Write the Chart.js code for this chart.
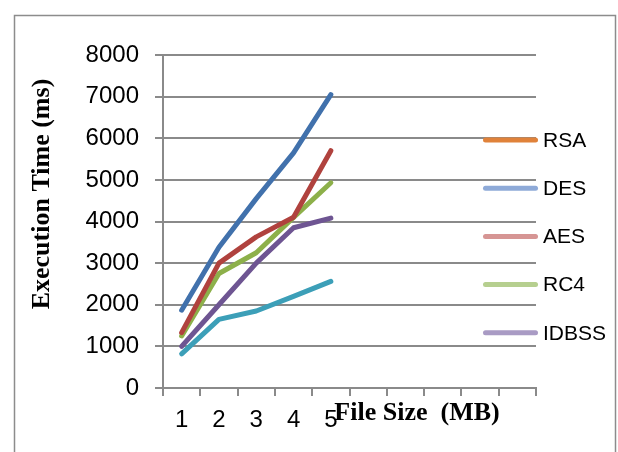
<!DOCTYPE html>
<html><head><meta charset="utf-8">
<script src="https://cdn.jsdelivr.net/npm/chart.js@4/dist/chart.umd.min.js"></script>
<style>html,body{margin:0;padding:0;background:#fff;overflow:hidden}#wrap{position:absolute;left:0;top:0;width:618px;height:452px}</style>
</head><body><div id="wrap"><canvas id="c" width="618" height="452"></canvas></div>
<script>
// ---- data ----
const categories = ['1','2','3','4','5','','','','',''];
const yTicks = [0,1000,2000,3000,4000,5000,6000,7000,8000];
const seriesNames = ['RSA','DES','AES','RC4','IDBSS'];
const rsaValues   = [1870,3380,4550,5650,7050];
const desValues   = [1330,3000,3630,4100,5700];
const aesValues   = [1250,2750,3250,4100,4930];
const rc4Values   = [1000,2000,3000,3850,4080];
const idbssValues = [820,1650,1850,2200,2560];
const lineColors   = ['#4171ac','#b0423e','#8db04a','#6e5592','#3c9fb8'];
const legendColors = ['#e0823a','#8eaad8','#d69594','#b6cf8f','#a99bc4'];
const yTitle = 'Execution Time (ms)';
const xTitle = 'File Size  (MB)';

const seriesValues = [rsaValues, desValues, aesValues, rc4Values, idbssValues];
const GRID = '#8a8a8a';

const decor = {
  id: 'decor',
  beforeDraw(chart) {
    const ctx = chart.ctx;
    ctx.save();
    ctx.fillStyle = '#fff';
    ctx.fillRect(0, 0, chart.width, chart.height);
    ctx.strokeStyle = '#8c8c8c';
    ctx.lineWidth = 1.5;
    ctx.strokeRect(14.5, 15.5, 601, 470);
    ctx.restore();
  },
  afterDraw(chart) {
    const ctx = chart.ctx;
    ctx.save();
    // legend
    ctx.font = '21px "Liberation Sans", Arial, sans-serif';
    ctx.textBaseline = 'middle';
    ctx.textAlign = 'left';
    seriesNames.forEach((name, i) => {
      const y = 140 + i * 48.2;
      ctx.strokeStyle = legendColors[i];
      ctx.lineWidth = 5;
      ctx.lineCap = 'round';
      ctx.beginPath();
      ctx.moveTo(485.5, y);
      ctx.lineTo(535.5, y);
      ctx.stroke();
      ctx.fillStyle = '#000';
      ctx.fillText(name, 543, y + 1);
    });
    // axis titles
    ctx.font = 'bold 26px "Liberation Serif", "Times New Roman", serif';
    ctx.fillStyle = '#000';
    ctx.textAlign = 'center';
    ctx.textBaseline = 'middle';
    ctx.fillText(xTitle, 417, 413);
    ctx.translate(42, 194);
    ctx.rotate(-Math.PI / 2);
    ctx.fillText(yTitle, 0, 0);
    ctx.restore();
  }
};

new Chart(document.getElementById('c'), {
  type: 'line',
  data: {
    labels: categories,
    datasets: seriesNames.map((n, i) => ({
      label: n,
      data: seriesValues[i],
      borderColor: lineColors[i],
      backgroundColor: lineColors[i],
      borderWidth: 5,
      pointRadius: 0,
      tension: 0,
      borderCapStyle: 'round',
      borderJoinStyle: 'round',
      fill: false
    }))
  },
  options: {
    responsive: false,
    animation: false,
    devicePixelRatio: 1,
    layout: { padding: { left: 0, top: 55, right: 82, bottom: 0 } },
    plugins: { legend: { display: false }, tooltip: { enabled: false } },
    scales: {
      x: {
        type: 'category',
        offset: true,
        grid: { offset: true, drawOnChartArea: false, drawTicks: true, tickLength: 8, color: GRID, lineWidth: 2 },
        border: { display: true, color: GRID, width: 2 },
        ticks: { autoSkip: false, maxRotation: 0, color: '#000', padding: 10,
                 font: { family: '"Liberation Sans", Arial, sans-serif', size: 24 } },
        afterFit(s) { s.height = 64; }
      },
      y: {
        min: 0, max: 8000,
        afterBuildTicks(s) { s.ticks = yTicks.map(v => ({ value: v })); },
        grid: { color: GRID, lineWidth: 2, tickLength: 8, drawTicks: true },
        border: { display: true, color: GRID, width: 2 },
        ticks: { color: '#000', padding: 16, callback: v => String(v),
                 font: { family: '"Liberation Sans", Arial, sans-serif', size: 24 } },
        afterFit(s) { s.width = 163; }
      }
    }
  },
  plugins: [decor]
});
</script>
</body></html>
